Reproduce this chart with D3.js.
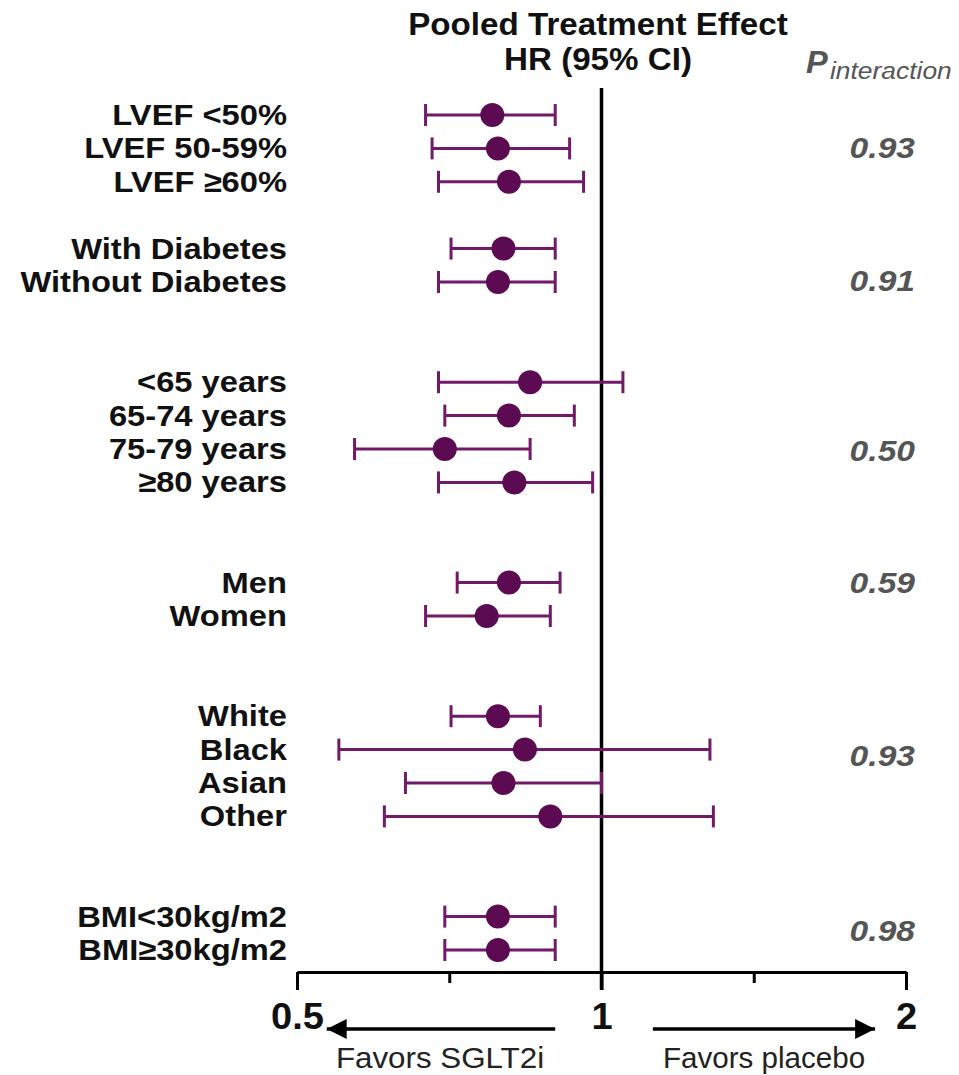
<!DOCTYPE html>
<html>
<head>
<meta charset="utf-8">
<script src="https://cdn.jsdelivr.net/npm/d3@7"></script>
<style>
  body { margin: 0; background: #fff; }
  svg { display: block; font-family: "Liberation Sans", Arial, sans-serif; }
</style>
</head>
<body>
<svg id="chart" width="959" height="1075"></svg>
<script>
// subgroup rows (slot = vertical row position, gaps between groups)
var labels = ["LVEF <50%", "LVEF 50-59%", "LVEF \u226560%",
  "With Diabetes", "Without Diabetes",
  "<65 years", "65-74 years", "75-79 years", "\u226580 years",
  "Men", "Women",
  "White", "Black", "Asian", "Other",
  "BMI<30kg/m2", "BMI\u226530kg/m2"];
var slots = [0, 1, 2, 4, 5, 8, 9, 10, 11, 14, 15, 18, 19, 20, 21, 24, 25];
var hr  = [0.78, 0.79, 0.81, 0.80, 0.79, 0.85, 0.81, 0.70, 0.82, 0.81, 0.77, 0.79, 0.84, 0.80, 0.89, 0.79, 0.79];
var lo  = [0.67, 0.68, 0.69, 0.71, 0.69, 0.69, 0.70, 0.57, 0.69, 0.72, 0.67, 0.71, 0.55, 0.64, 0.61, 0.70, 0.70];
var hi  = [0.90, 0.93, 0.96, 0.90, 0.90, 1.05, 0.94, 0.85, 0.98, 0.91, 0.89, 0.87, 1.28, 1.00, 1.29, 0.90, 0.90];

// p for interaction, one per group
var pValues = ["0.93", "0.91", "0.50", "0.59", "0.93", "0.98"];
var pSlots = [0.96, 4.94, 10.03, 13.98, 19.16, 24.4];

var tickValues = [0.5, Math.SQRT1_2, 1, Math.SQRT2, 2];
var tickLabels = {0.5: "0.5", 1: "1", 2: "2"};

var lineColor = "#711a67", dotColor = "#5c0b52";

var svg = d3.select("#chart");
var x = d3.scaleLog().base(2).domain([0.5, 2]).range([297, 906]);
var y = d3.scaleLinear().domain([0, 25]).range([115, 950]);
var axisY = 972;

// text in the picture is a little wide, so stretch it horizontally
function label(sel, tx, ty, txt, sx) {
  return sel.append("text")
    .attr("transform", "translate(" + tx + "," + ty + ") scale(" + (sx || 1.09) + ",1)")
    .text(txt);
}

// header
var head = svg.append("g").attr("font-weight", "bold").attr("font-size", 31)
  .attr("text-anchor", "middle").attr("fill", "#111");
label(head, 598, 35, "Pooled Treatment Effect", 1.07);
label(head, 598, 70, "HR (95% CI)", 1.07);

var pHead = svg.append("g").attr("font-style", "italic").attr("font-weight", "bold").attr("fill", "#555");
label(pHead, 806, 73, "P", 1.05).attr("font-size", 31);
label(pHead, 830, 79, "interaction", 1.1).attr("font-size", 24).attr("font-weight", "normal");

// reference line at HR = 1
svg.append("line")
  .attr("x1", x(1)).attr("x2", x(1))
  .attr("y1", 88).attr("y2", axisY + 18)
  .attr("stroke", "#000").attr("stroke-width", 3.5);

// row labels
var rowText = svg.append("g").attr("font-weight", "bold").attr("font-size", 30)
  .attr("text-anchor", "end").attr("fill", "#111");
labels.forEach(function(d, i) {
  label(rowText, 287, y(slots[i]) + 10, d);
});

// CIs
var rows = svg.append("g").selectAll("g")
  .data(labels.map(function(d, i) { return {label: d, y: y(slots[i]), hr: hr[i], lo: lo[i], hi: hi[i]}; }))
  .join("g");

rows.append("line")
  .attr("x1", function(d) { return x(d.lo); })
  .attr("x2", function(d) { return x(d.hi); })
  .attr("y1", function(d) { return d.y; })
  .attr("y2", function(d) { return d.y; })
  .attr("stroke", lineColor).attr("stroke-width", 3);

["lo", "hi"].forEach(function(k) {
  rows.append("line")
    .attr("x1", function(d) { return x(d[k]); })
    .attr("x2", function(d) { return x(d[k]); })
    .attr("y1", function(d) { return d.y - 11; })
    .attr("y2", function(d) { return d.y + 11; })
    .attr("stroke", lineColor).attr("stroke-width", 3);
});

rows.append("circle")
  .attr("cx", function(d) { return x(d.hr); })
  .attr("cy", function(d) { return d.y; })
  .attr("r", 12)
  .attr("fill", dotColor);

// p values
var pText = svg.append("g").attr("font-weight", "bold").attr("font-style", "italic")
  .attr("font-size", 30).attr("text-anchor", "end").attr("fill", "#555");
pValues.forEach(function(p, i) {
  label(pText, 915, y(pSlots[i]) + 11, p, 1.12);
});

// x axis
var axis = svg.append("g")
  .attr("transform", "translate(0," + axisY + ")")
  .call(d3.axisBottom(x).tickValues(tickValues).tickSizeOuter(0).tickPadding(25)
    .tickFormat(function(d) { return tickLabels[d] || ""; }));

axis.select(".domain").attr("stroke", "#000").attr("stroke-width", 3);
axis.selectAll(".tick line")
  .attr("stroke", "#000").attr("stroke-width", 3)
  .attr("y2", function(d) { return tickLabels[d] ? 18 : 11; });
axis.selectAll(".tick text")
  .attr("fill", "#111").attr("font-size", 37).attr("font-weight", "bold")
  .attr("font-family", "Liberation Sans, Arial, sans-serif")
  .attr("transform", "scale(1.03,1)");

// direction arrows
var defs = svg.append("defs");
defs.append("marker").attr("id", "arrow")
  .attr("viewBox", "0 0 10 10").attr("refX", 10).attr("refY", 5)
  .attr("markerWidth", 6.3).attr("markerHeight", 5.7)
  .attr("markerUnits", "strokeWidth").attr("orient", "auto")
  .append("path").attr("d", "M0,0L10,5L0,10Z").attr("fill", "#000");

var arrowY = 1029;
svg.append("line")
  .attr("x1", x(0.9)).attr("x2", x(0.535))
  .attr("y1", arrowY).attr("y2", arrowY)
  .attr("stroke", "#000").attr("stroke-width", 3.5).attr("marker-end", "url(#arrow)");
svg.append("line")
  .attr("x1", x(1.124)).attr("x2", x(1.864))
  .attr("y1", arrowY).attr("y2", arrowY)
  .attr("stroke", "#000").attr("stroke-width", 3.5).attr("marker-end", "url(#arrow)");

var fav = svg.append("g").attr("font-size", 29).attr("text-anchor", "middle").attr("fill", "#222");
label(fav, 440, 1068, "Favors SGLT2i", 1.08);
label(fav, 764, 1068, "Favors placebo", 1.02);
</script>
</body>
</html>
